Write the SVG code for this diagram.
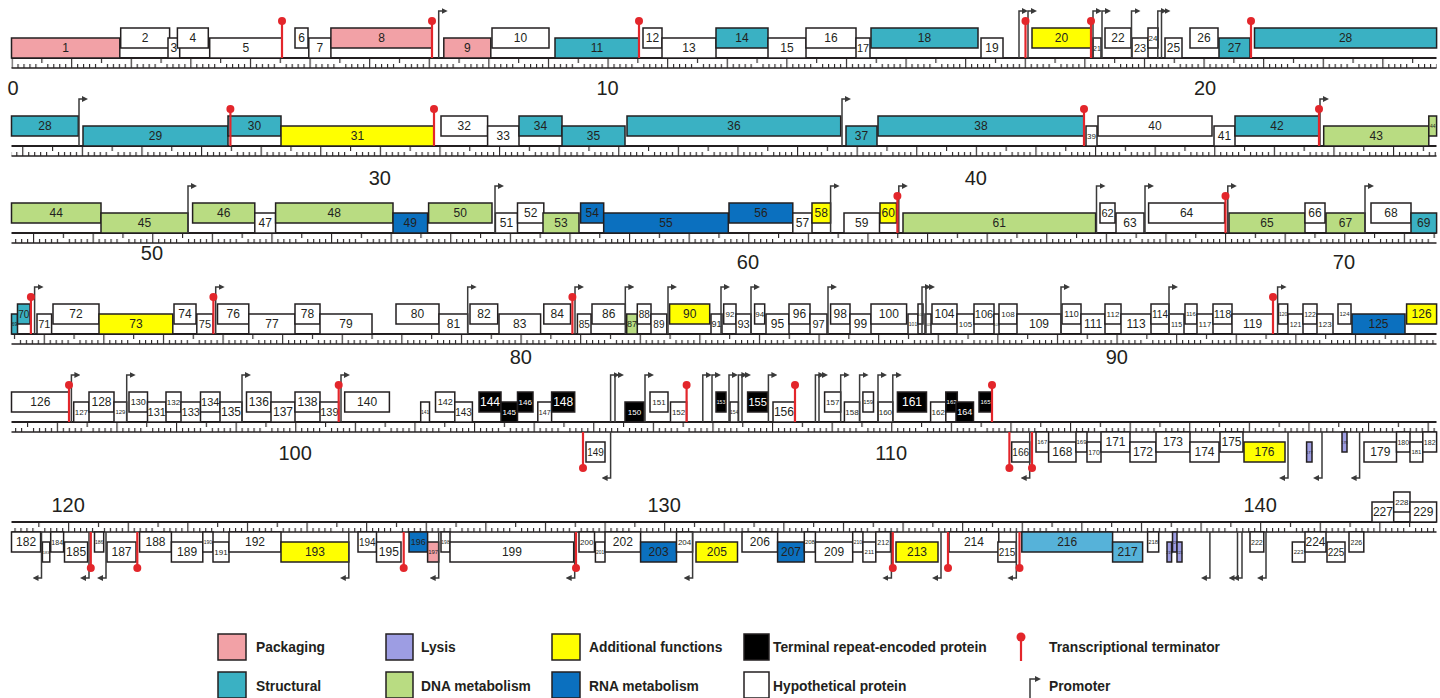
<svg xmlns="http://www.w3.org/2000/svg" xmlns:xlink="http://www.w3.org/1999/xlink" width="1440" height="698" viewBox="0 0 1440 698">
<style>
.b{stroke:#231f20;stroke-width:1.5;fill:#fff}
.pk{fill:#F2A1A6}.st{fill:#3AB1C3}.dn{fill:#B9DC82}.rn{fill:#0B70BF}.ad{fill:#FFFF00}.ly{fill:#9D9DE3}.tr{fill:#000}.sl{fill:#56B2D9}
text{font-family:'Liberation Sans',Arial,sans-serif;fill:#231f20}
.gn text{font-size:12px;text-anchor:middle;dominant-baseline:central}
.gn text.w{fill:#fff}
.f4{font-size:4px!important}.f5{font-size:5px!important}.f6{font-size:6px!important}.f7{font-size:7px!important}.f8{font-size:8px!important}.f9{font-size:9px!important}.f10{font-size:10px!important}.f11{font-size:11px!important}
.k{font-size:20px;text-anchor:middle;dominant-baseline:central}
.lg{font-size:13.8px;font-weight:bold;dominant-baseline:central}
.rt{stroke:#231f20;stroke-width:2.2}
.rb{stroke:#231f20;stroke-width:1.7}
.pr{fill:none;stroke:#3a3a3a;stroke-width:1.5}
.tm{stroke:#E3262B;stroke-width:2.2}
.tb{fill:#E3262B}
</style>
<defs>
<pattern id="rul" patternUnits="userSpaceOnUse" x="0" y="0" width="59.6" height="10">
<path d="M0.6 0V10M6.56 6V10M12.52 6V10M18.48 6V10M24.44 6V10M30.4 0V5M36.36 6V10M42.32 6V10M48.28 6V10M54.24 6V10" stroke="#231f20" stroke-width="1.1"/>
</pattern>
<marker id="ah" markerWidth="6" markerHeight="6" refX="1" refY="3" orient="auto" markerUnits="userSpaceOnUse"><path d="M0,0L6,3L0,6z" fill="#3a3a3a"/></marker>
<path id="pu" class="pr" d="M0 0V-47h4" marker-end="url(#ah)"/>
<path id="pd" class="pr" d="M0 0V46h-4" marker-end="url(#ah)"/>
<g id="tu"><line class="tm" x1="0" y1="0" x2="0" y2="-37"/><circle class="tb" cx="0" cy="-37" r="4"/></g>
<g id="td"><line class="tm" x1="0" y1="0" x2="0" y2="36"/><circle class="tb" cx="0" cy="36" r="4"/></g>
</defs>
<rect width="1440" height="698" fill="#fff"/>

<g id="rulers">
<g transform="translate(11.5,58)"><rect x="0" y="0" width="1425" height="10" fill="url(#rul)"/></g>
<line class="rt" x1="11.5" y1="58" x2="1436.5" y2="58"/><line class="rb" x1="11.5" y1="68" x2="1436.5" y2="68"/>
<g transform="translate(22.2,146)"><rect x="-10.7" y="0" width="1425" height="10" fill="url(#rul)"/></g>
<line class="rt" x1="11.5" y1="146" x2="1436.5" y2="146"/><line class="rb" x1="11.5" y1="156" x2="1436.5" y2="156"/>
<g transform="translate(33,233)"><rect x="-21.5" y="0" width="1425" height="10" fill="url(#rul)"/></g>
<line class="rt" x1="11.5" y1="233" x2="1436.5" y2="233"/><line class="rb" x1="11.5" y1="243" x2="1436.5" y2="243"/>
<g transform="translate(43.7,334)"><rect x="-32.2" y="0" width="1425" height="10" fill="url(#rul)"/></g>
<line class="rt" x1="11.5" y1="334" x2="1436.5" y2="334"/><line class="rb" x1="11.5" y1="344" x2="1436.5" y2="344"/>
<g transform="translate(56.8,422)"><rect x="-45.3" y="0" width="1425" height="10" fill="url(#rul)"/></g>
<line class="rt" x1="11.5" y1="422" x2="1436.5" y2="422"/><line class="rb" x1="11.5" y1="432" x2="1436.5" y2="432"/>
<g transform="translate(68.1,522)"><rect x="-56.6" y="0" width="1425" height="10" fill="url(#rul)"/></g>
<line class="rt" x1="11.5" y1="522" x2="1436.5" y2="522"/><line class="rb" x1="11.5" y1="532" x2="1436.5" y2="532"/>
<text class="k" x="13" y="88">0</text><text class="k" x="607.5" y="88">10</text><text class="k" x="1205" y="88">20</text>
<text class="k" x="379.8" y="178">30</text><text class="k" x="975.8" y="178">40</text>
<text class="k" x="151.9" y="253">50</text><text class="k" x="747.9" y="262">60</text><text class="k" x="1343.9" y="262">70</text>
<text class="k" x="520.8" y="357">80</text><text class="k" x="1116.8" y="357">90</text>
<text class="k" x="295.1" y="453">100</text><text class="k" x="891.1" y="453">110</text>
<text class="k" x="68.1" y="505">120</text><text class="k" x="664.1" y="505">130</text><text class="k" x="1260.1" y="505">140</text>
</g>

<g id="genes" class="gn">
<!-- row 1 -->
<g id="gene-1"><rect class="b pk" x="11.5" y="38" width="108.3" height="20"/><text x="65.7" y="48">1</text></g>
<g id="gene-2"><rect class="b" x="120.7" y="28" width="48.9" height="20"/><text x="145.2" y="38">2</text></g>
<g id="gene-3"><rect class="b" x="168" y="38" width="11.7" height="20"/><text x="173.9" y="48">3</text></g>
<g id="gene-4"><rect class="b" x="177.4" y="28" width="30.9" height="20"/><text x="192.9" y="38">4</text></g>
<g id="gene-5"><rect class="b" x="209.7" y="38" width="72.3" height="20"/><text x="245.9" y="48">5</text></g>
<g id="gene-6"><rect class="b" x="295" y="28" width="13" height="20"/><text x="301.5" y="38">6</text></g>
<g id="gene-7"><rect class="b" x="308.8" y="38" width="22.1" height="20"/><text x="319.9" y="48">7</text></g>
<g id="gene-8"><rect class="b pk" x="330.9" y="28" width="101.1" height="20"/><text x="381.5" y="38">8</text></g>
<g id="gene-9"><rect class="b pk" x="443.8" y="38" width="47" height="20"/><text x="467.3" y="48">9</text></g>
<g id="gene-10"><rect class="b" x="492" y="28" width="57" height="20"/><text x="520.5" y="38">10</text></g>
<g id="gene-11"><rect class="b st" x="555" y="38" width="84" height="20"/><text x="597" y="48">11</text></g>
<g id="gene-12"><rect class="b" x="643" y="28" width="19" height="20"/><text x="652.5" y="38">12</text></g>
<g id="gene-13"><rect class="b" x="662" y="38" width="54" height="20"/><text x="689" y="48">13</text></g>
<g id="gene-14"><rect class="b st" x="716" y="28" width="52" height="20"/><text x="742" y="38">14</text></g>
<g id="gene-15"><rect class="b" x="768" y="38" width="38" height="20"/><text x="787" y="48">15</text></g>
<g id="gene-16"><rect class="b" x="806" y="28" width="50" height="20"/><text x="831" y="38">16</text></g>
<g id="gene-17"><rect class="b" x="856" y="38" width="14" height="20"/><text class="f11" x="863" y="48">17</text></g>
<g id="gene-18"><rect class="b st" x="871" y="28" width="107" height="20"/><text x="924.5" y="38">18</text></g>
<g id="gene-19"><rect class="b" x="981" y="38" width="22" height="20"/><text x="992" y="48">19</text></g>
<g id="gene-20"><rect class="b ad" x="1032" y="28" width="59" height="20"/><text x="1061.5" y="38">20</text></g>
<g id="gene-21"><rect class="b" x="1093" y="38" width="8" height="20"/><text class="f7" x="1097" y="48">21</text></g>
<g id="gene-22"><rect class="b" x="1105" y="28" width="26" height="20"/><text x="1118" y="38">22</text></g>
<g id="gene-23"><rect class="b" x="1132" y="38" width="16" height="20"/><text class="f11" x="1140" y="48">23</text></g>
<g id="gene-24"><rect class="b" x="1148" y="28" width="10" height="20"/><text class="f8" x="1153" y="38">24</text></g>
<g id="gene-25"><rect class="b" x="1165" y="38" width="17" height="20"/><text x="1173.5" y="48">25</text></g>
<g id="gene-26"><rect class="b" x="1190" y="28" width="28" height="20"/><text x="1204" y="38">26</text></g>
<g id="gene-27"><rect class="b st" x="1219" y="38" width="31" height="20"/><text x="1234.5" y="48">27</text></g>
<g id="gene-28"><rect class="b st" x="1254.5" y="28" width="182.1" height="20"/><text x="1345.6" y="38">28</text></g>
<!-- row 2 -->
<g id="gene-28-cont"><rect class="b st" x="11.5" y="116" width="66.8" height="20"/><text x="44.9" y="126">28</text></g>
<g id="gene-29"><rect class="b st" x="83" y="126" width="145" height="20"/><text x="155.5" y="136">29</text></g>
<g id="gene-30"><rect class="b st" x="228" y="116" width="53" height="20"/><text x="254.5" y="126">30</text></g>
<g id="gene-31"><rect class="b ad" x="281" y="126" width="153" height="20"/><text x="357.5" y="136">31</text></g>
<g id="gene-32"><rect class="b" x="441" y="116" width="46.6" height="20"/><text x="464.3" y="126">32</text></g>
<g id="gene-33"><rect class="b" x="487.6" y="126" width="31.4" height="20"/><text x="503.3" y="136">33</text></g>
<g id="gene-34"><rect class="b st" x="519" y="116" width="43" height="20"/><text x="540.5" y="126">34</text></g>
<g id="gene-35"><rect class="b st" x="562" y="126" width="63" height="20"/><text x="593.5" y="136">35</text></g>
<g id="gene-36"><rect class="b st" x="627" y="116" width="213.7" height="20"/><text x="733.9" y="126">36</text></g>
<g id="gene-37"><rect class="b st" x="846" y="126" width="31" height="20"/><text x="861.5" y="136">37</text></g>
<g id="gene-38"><rect class="b st" x="878" y="116" width="206" height="20"/><text x="981" y="126">38</text></g>
<g id="gene-39"><rect class="b" x="1086" y="126" width="11" height="20"/><text class="f8" x="1091.5" y="136">39</text></g>
<g id="gene-40"><rect class="b" x="1098" y="116" width="114" height="20"/><text x="1155" y="126">40</text></g>
<g id="gene-41"><rect class="b" x="1214" y="126" width="21" height="20"/><text x="1224.5" y="136">41</text></g>
<g id="gene-42"><rect class="b st" x="1235" y="116" width="84" height="20"/><text x="1277" y="126">42</text></g>
<g id="gene-43"><rect class="b dn" x="1323.7" y="126" width="105.1" height="20"/><text x="1376.3" y="136">43</text></g>
<g id="gene-44"><rect class="b dn" x="1428.8" y="116" width="7.8" height="20"/><text class="f5" x="1432.7" y="126">44</text></g>
<!-- row 3 -->
<g id="gene-44-cont"><rect class="b dn" x="11.5" y="203" width="89.5" height="20"/><text x="56.3" y="213">44</text></g>
<g id="gene-45"><rect class="b dn" x="101" y="213" width="87" height="20"/><text x="144.5" y="223">45</text></g>
<g id="gene-46"><rect class="b dn" x="192.6" y="203" width="62.2" height="20"/><text x="223.7" y="213">46</text></g>
<g id="gene-47"><rect class="b" x="254.8" y="213" width="20.8" height="20"/><text x="265.2" y="223">47</text></g>
<g id="gene-48"><rect class="b dn" x="275.6" y="203" width="117.4" height="20"/><text x="334.3" y="213">48</text></g>
<g id="gene-49"><rect class="b rn" x="393" y="213" width="34.6" height="20"/><text x="410.3" y="223">49</text></g>
<g id="gene-50"><rect class="b dn" x="428.6" y="203" width="63.4" height="20"/><text x="460.3" y="213">50</text></g>
<g id="gene-51"><rect class="b" x="495.4" y="213" width="22.1" height="20"/><text x="506.5" y="223">51</text></g>
<g id="gene-52"><rect class="b" x="517.5" y="203" width="26.3" height="20"/><text x="530.7" y="213">52</text></g>
<g id="gene-53"><rect class="b dn" x="543" y="213" width="36" height="20"/><text x="561" y="223">53</text></g>
<g id="gene-54"><rect class="b rn" x="580.6" y="203" width="23.1" height="20"/><text x="592.2" y="213">54</text></g>
<g id="gene-55"><rect class="b rn" x="603.7" y="213" width="124.6" height="20"/><text x="666" y="223">55</text></g>
<g id="gene-56"><rect class="b rn" x="729" y="203" width="63.8" height="20"/><text x="760.9" y="213">56</text></g>
<g id="gene-57"><rect class="b" x="792.8" y="213" width="19.2" height="20"/><text x="802.4" y="223">57</text></g>
<g id="gene-58"><rect class="b ad" x="812" y="203" width="18.6" height="20"/><text x="821.3" y="213">58</text></g>
<g id="gene-59"><rect class="b" x="844" y="213" width="35.5" height="20"/><text x="861.8" y="223">59</text></g>
<g id="gene-60"><rect class="b ad" x="880" y="203" width="16.5" height="20"/><text x="888.3" y="213">60</text></g>
<g id="gene-61"><rect class="b dn" x="903" y="213" width="192.6" height="20"/><text x="999.3" y="223">61</text></g>
<g id="gene-62"><rect class="b" x="1100" y="203" width="15" height="20"/><text class="f11" x="1107.5" y="213">62</text></g>
<g id="gene-63"><rect class="b" x="1116" y="213" width="28" height="20"/><text x="1130" y="223">63</text></g>
<g id="gene-64"><rect class="b" x="1148.6" y="203" width="76" height="20"/><text x="1186.6" y="213">64</text></g>
<g id="gene-65"><rect class="b dn" x="1229" y="213" width="76" height="20"/><text x="1267" y="223">65</text></g>
<g id="gene-66"><rect class="b" x="1305" y="203" width="20" height="20"/><text x="1315" y="213">66</text></g>
<g id="gene-67"><rect class="b dn" x="1326" y="213" width="39" height="20"/><text x="1345.5" y="223">67</text></g>
<g id="gene-68"><rect class="b" x="1371" y="203" width="40" height="20"/><text x="1391" y="213">68</text></g>
<g id="gene-69"><rect class="b st" x="1411" y="213" width="25.6" height="20"/><text x="1423.8" y="223">69</text></g>
<!-- row 4 -->
<g id="gene-69-cont"><rect class="b st" x="11.5" y="314" width="6" height="20"/><text class="f5" x="14.5" y="324">69</text></g>
<g id="gene-70"><rect class="b st" x="17.5" y="304" width="12.5" height="20"/><text class="f10" x="23.8" y="314">70</text></g>
<g id="gene-71"><rect class="b" x="37" y="314" width="14.6" height="20"/><text class="f11" x="44.3" y="324">71</text></g>
<g id="gene-72"><rect class="b" x="53" y="304" width="46" height="20"/><text x="76" y="314">72</text></g>
<g id="gene-73"><rect class="b ad" x="99" y="314" width="73.8" height="20"/><text x="135.9" y="324">73</text></g>
<g id="gene-74"><rect class="b" x="174" y="304" width="22" height="20"/><text x="185" y="314">74</text></g>
<g id="gene-75"><rect class="b" x="196.8" y="314" width="16.2" height="20"/><text class="f11" x="204.9" y="324">75</text></g>
<g id="gene-76"><rect class="b" x="217.5" y="304" width="31.3" height="20"/><text x="233.2" y="314">76</text></g>
<g id="gene-77"><rect class="b" x="248.8" y="314" width="46.2" height="20"/><text x="271.9" y="324">77</text></g>
<g id="gene-78"><rect class="b" x="295" y="304" width="25" height="20"/><text x="307.5" y="314">78</text></g>
<g id="gene-79"><rect class="b" x="320" y="314" width="52" height="20"/><text x="346" y="324">79</text></g>
<g id="gene-80"><rect class="b" x="396" y="304" width="43" height="20"/><text x="417.5" y="314">80</text></g>
<g id="gene-81"><rect class="b" x="439" y="314" width="28.7" height="20"/><text x="453.4" y="324">81</text></g>
<g id="gene-82"><rect class="b" x="470" y="304" width="27.7" height="20"/><text x="483.9" y="314">82</text></g>
<g id="gene-83"><rect class="b" x="499" y="314" width="41.6" height="20"/><text x="519.8" y="324">83</text></g>
<g id="gene-84"><rect class="b" x="543.8" y="304" width="26.7" height="20"/><text x="557.2" y="314">84</text></g>
<g id="gene-85"><rect class="b" x="577.4" y="314" width="13.6" height="20"/><text class="f10" x="584.2" y="324">85</text></g>
<g id="gene-86"><rect class="b" x="592" y="304" width="33.3" height="20"/><text x="608.7" y="314">86</text></g>
<g id="gene-87"><rect class="b dn" x="626.7" y="314" width="10.6" height="20"/><text class="f9" x="632" y="324">87</text></g>
<g id="gene-88"><rect class="b" x="637.3" y="304" width="13.7" height="20"/><text class="f10" x="644.2" y="314">88</text></g>
<g id="gene-89"><rect class="b" x="651" y="314" width="15.8" height="20"/><text class="f10" x="658.9" y="324">89</text></g>
<g id="gene-90"><rect class="b ad" x="669.6" y="304" width="40.1" height="20"/><text x="689.7" y="314">90</text></g>
<g id="gene-91"><rect class="b" x="711" y="314" width="11" height="20"/><text class="f9" x="716.5" y="324">91</text></g>
<g id="gene-92"><rect class="b" x="723.7" y="304" width="12.3" height="20"/><text class="f8" x="729.9" y="314">92</text></g>
<g id="gene-93"><rect class="b" x="736" y="314" width="15" height="20"/><text class="f11" x="743.5" y="324">93</text></g>
<g id="gene-94"><rect class="b" x="754.6" y="304" width="10.1" height="20"/><text class="f8" x="759.7" y="314">94</text></g>
<g id="gene-95"><rect class="b" x="766" y="314" width="23" height="20"/><text x="777.5" y="324">95</text></g>
<g id="gene-96"><rect class="b" x="789" y="304" width="21" height="20"/><text x="799.5" y="314">96</text></g>
<g id="gene-97"><rect class="b" x="810" y="314" width="17" height="20"/><text class="f11" x="818.5" y="324">97</text></g>
<g id="gene-98"><rect class="b" x="830.6" y="304" width="19.4" height="20"/><text x="840.3" y="314">98</text></g>
<g id="gene-99"><rect class="b" x="850" y="314" width="21" height="20"/><text x="860.5" y="324">99</text></g>
<g id="gene-100"><rect class="b" x="871" y="304" width="35.6" height="20"/><text x="888.8" y="314">100</text></g>
<g id="gene-101"><rect class="b" x="908" y="314" width="10" height="20"/><text class="f5" x="913" y="324">101</text></g>
<g id="gene-102"><rect class="b" x="918" y="304" width="5" height="20"/><text class="f4" x="920.5" y="314">102</text></g>
<g id="gene-103"><rect class="b" x="925" y="314" width="6" height="20"/><text class="f4" x="928" y="324">103</text></g>
<g id="gene-104"><rect class="b" x="932" y="304" width="25" height="20"/><text x="944.5" y="314">104</text></g>
<g id="gene-105"><rect class="b" x="957" y="314" width="17" height="20"/><text class="f8" x="965.5" y="324">105</text></g>
<g id="gene-106"><rect class="b" x="974" y="304" width="20" height="20"/><text class="f11" x="984" y="314">106</text></g>
<g id="gene-107"><rect class="b" x="994" y="314" width="5" height="20"/><text class="f4" x="996.5" y="324">107</text></g>
<g id="gene-108"><rect class="b" x="999" y="304" width="18" height="20"/><text class="f8" x="1008" y="314">108</text></g>
<g id="gene-109"><rect class="b" x="1017" y="314" width="44" height="20"/><text x="1039" y="324">109</text></g>
<g id="gene-110"><rect class="b" x="1062" y="304" width="19" height="20"/><text class="f9" x="1071.5" y="314">110</text></g>
<g id="gene-111"><rect class="b" x="1081" y="314" width="24" height="20"/><text x="1093" y="324">111</text></g>
<g id="gene-112"><rect class="b" x="1105" y="304" width="16" height="20"/><text class="f8" x="1113" y="314">112</text></g>
<g id="gene-113"><rect class="b" x="1121" y="314" width="30" height="20"/><text x="1136" y="324">113</text></g>
<g id="gene-114"><rect class="b" x="1151" y="304" width="18" height="20"/><text class="f10" x="1160" y="314">114</text></g>
<g id="gene-115"><rect class="b" x="1169" y="314" width="15" height="20"/><text class="f7" x="1176.5" y="324">115</text></g>
<g id="gene-116"><rect class="b" x="1185" y="304" width="12" height="20"/><text class="f6" x="1191" y="314">116</text></g>
<g id="gene-117"><rect class="b" x="1197" y="314" width="16" height="20"/><text class="f8" x="1205" y="324">117</text></g>
<g id="gene-118"><rect class="b" x="1213" y="304" width="19" height="20"/><text class="f11" x="1222.5" y="314">118</text></g>
<g id="gene-119"><rect class="b" x="1232" y="314" width="41" height="20"/><text x="1252.5" y="324">119</text></g>
<g id="gene-120"><rect class="b" x="1278.5" y="304" width="9.2" height="20"/><text class="f5" x="1283.1" y="314">120</text></g>
<g id="gene-121"><rect class="b" x="1288" y="314" width="15" height="20"/><text class="f7" x="1295.5" y="324">121</text></g>
<g id="gene-122"><rect class="b" x="1303" y="304" width="14" height="20"/><text class="f7" x="1310" y="314">122</text></g>
<g id="gene-123"><rect class="b" x="1317" y="314" width="16" height="20"/><text class="f8" x="1325" y="324">123</text></g>
<g id="gene-124"><rect class="b" x="1338" y="304" width="13" height="20"/><text class="f6" x="1344.5" y="314">124</text></g>
<g id="gene-125"><rect class="b rn" x="1352" y="314" width="53" height="20"/><text x="1378.5" y="324">125</text></g>
<g id="gene-126"><rect class="b ad" x="1406.6" y="304" width="30" height="20"/><text x="1421.6" y="314">126</text></g>
<!-- row 5 -->
<g id="gene-126-cont"><rect class="b" x="11.5" y="392" width="57.5" height="20"/><text x="40.3" y="402">126</text></g>
<g id="gene-127"><rect class="b" x="73.7" y="402" width="15.3" height="20"/><text class="f8" x="81.4" y="412">127</text></g>
<g id="gene-128"><rect class="b" x="89" y="392" width="25" height="20"/><text x="101.5" y="402">128</text></g>
<g id="gene-129"><rect class="b" x="114" y="402" width="12.7" height="20"/><text class="f6" x="120.4" y="412">129</text></g>
<g id="gene-130"><rect class="b" x="129" y="392" width="18.5" height="20"/><text class="f9" x="138.3" y="402">130</text></g>
<g id="gene-131"><rect class="b" x="147.5" y="402" width="18.5" height="20"/><text class="f11" x="156.8" y="412">131</text></g>
<g id="gene-132"><rect class="b" x="166" y="392" width="15" height="20"/><text class="f8" x="173.5" y="402">132</text></g>
<g id="gene-133"><rect class="b" x="181" y="402" width="19.5" height="20"/><text class="f11" x="190.8" y="412">133</text></g>
<g id="gene-134"><rect class="b" x="200.5" y="392" width="19.5" height="20"/><text class="f11" x="210.3" y="402">134</text></g>
<g id="gene-135"><rect class="b" x="220" y="402" width="22" height="20"/><text x="231" y="412">135</text></g>
<g id="gene-136"><rect class="b" x="246.5" y="392" width="24.5" height="20"/><text x="258.8" y="402">136</text></g>
<g id="gene-137"><rect class="b" x="271" y="402" width="24" height="20"/><text x="283" y="412">137</text></g>
<g id="gene-138"><rect class="b" x="295" y="392" width="25" height="20"/><text x="307.5" y="402">138</text></g>
<g id="gene-139"><rect class="b" x="320" y="402" width="18.7" height="20"/><text class="f11" x="329.4" y="412">139</text></g>
<g id="gene-140"><rect class="b" x="344.7" y="392" width="44.7" height="20"/><text x="367.1" y="402">140</text></g>
<g id="gene-141"><rect class="b" x="420.7" y="402" width="8.8" height="20"/><text class="f5" x="425.1" y="412">141</text></g>
<g id="gene-142"><rect class="b" x="435.5" y="392" width="19.3" height="20"/><text class="f9" x="445.2" y="402">142</text></g>
<g id="gene-143"><rect class="b" x="454.8" y="402" width="17.6" height="20"/><text class="f10" x="463.6" y="412">143</text></g>
<g id="gene-144"><rect class="b tr" x="479" y="392" width="22" height="20"/><text class="w" x="490" y="402">144</text></g>
<g id="gene-145"><rect class="b tr" x="501" y="402" width="16.5" height="20"/><text class="w f8" x="509.3" y="412">145</text></g>
<g id="gene-146"><rect class="b tr" x="517.5" y="392" width="15.5" height="20"/><text class="w f8" x="525.3" y="402">146</text></g>
<g id="gene-147"><rect class="b" x="537.8" y="402" width="13.8" height="20"/><text class="f7" x="544.7" y="412">147</text></g>
<g id="gene-148"><rect class="b tr" x="551.6" y="392" width="23.1" height="20"/><text class="w" x="563.2" y="402">148</text></g>
<g id="gene-149"><rect class="b" x="586" y="442" width="19" height="20"/><text class="f10" x="595.5" y="452">149</text></g>
<g id="gene-150"><rect class="b tr" x="625" y="402" width="19" height="20"/><text class="w f8" x="634.5" y="412">150</text></g>
<g id="gene-151"><rect class="b" x="650" y="392" width="18" height="20"/><text class="f8" x="659" y="402">151</text></g>
<g id="gene-152"><rect class="b" x="670.5" y="402" width="16.1" height="20"/><text class="f8" x="678.6" y="412">152</text></g>
<g id="gene-153"><rect class="b tr" x="716" y="392" width="10" height="20"/><text class="w f5" x="721" y="402">153</text></g>
<g id="gene-154"><rect class="b" x="730" y="402" width="8.4" height="20"/><text class="f5" x="734.2" y="412">154</text></g>
<g id="gene-155"><rect class="b tr" x="747.6" y="392" width="19.9" height="20"/><text class="w f11" x="757.6" y="402">155</text></g>
<g id="gene-156"><rect class="b" x="773" y="402" width="21.7" height="20"/><text x="783.9" y="412">156</text></g>
<g id="gene-157"><rect class="b" x="824.6" y="392" width="16.1" height="20"/><text class="f8" x="832.7" y="402">157</text></g>
<g id="gene-158"><rect class="b" x="844.4" y="402" width="15.2" height="20"/><text class="f8" x="852" y="412">158</text></g>
<g id="gene-159"><rect class="b" x="862.9" y="392" width="10.6" height="20"/><text class="f6" x="868.2" y="402">159</text></g>
<g id="gene-160"><rect class="b" x="878" y="402" width="14.8" height="20"/><text class="f8" x="885.4" y="412">160</text></g>
<g id="gene-161"><rect class="b tr" x="897.4" y="392" width="29.1" height="20"/><text class="w" x="912" y="402">161</text></g>
<g id="gene-162"><rect class="b" x="930.6" y="402" width="15.2" height="20"/><text class="f8" x="938.2" y="412">162</text></g>
<g id="gene-163"><rect class="b tr" x="945.8" y="392" width="11.5" height="20"/><text class="w f6" x="951.6" y="402">163</text></g>
<g id="gene-164"><rect class="b tr" x="956" y="402" width="17.5" height="20"/><text class="w f9" x="964.8" y="412">164</text></g>
<g id="gene-165"><rect class="b tr" x="979" y="392" width="13" height="20"/><text class="w f6" x="985.5" y="402">165</text></g>
<g id="gene-166"><rect class="b" x="1011.7" y="442" width="18" height="20"/><text class="f10" x="1020.7" y="452">166</text></g>
<g id="gene-167"><rect class="b" x="1036" y="432" width="12.6" height="20"/><text class="f6" x="1042.3" y="442">167</text></g>
<g id="gene-168"><rect class="b" x="1048.6" y="442" width="27.4" height="20"/><text x="1062.3" y="452">168</text></g>
<g id="gene-169"><rect class="b" x="1076" y="432" width="11" height="20"/><text class="f6" x="1081.5" y="442">169</text></g>
<g id="gene-170"><rect class="b" x="1087" y="442" width="14" height="20"/><text class="f7" x="1094" y="452">170</text></g>
<g id="gene-171"><rect class="b" x="1101" y="432" width="29" height="20"/><text x="1115.5" y="442">171</text></g>
<g id="gene-172"><rect class="b" x="1130" y="442" width="26" height="20"/><text x="1143" y="452">172</text></g>
<g id="gene-173"><rect class="b" x="1156" y="432" width="34" height="20"/><text x="1173" y="442">173</text></g>
<g id="gene-174"><rect class="b" x="1190" y="442" width="29" height="20"/><text x="1204.5" y="452">174</text></g>
<g id="gene-175"><rect class="b" x="1220" y="432" width="23" height="20"/><text x="1231.5" y="442">175</text></g>
<g id="gene-176"><rect class="b ad" x="1244" y="442" width="41" height="20"/><text x="1264.5" y="452">176</text></g>
<g id="gene-177"><rect class="b ly" x="1306.6" y="442" width="5.4" height="20"/><text class="f4" x="1309.3" y="452">177</text></g>
<g id="gene-178"><rect class="b ly" x="1342" y="432" width="5" height="20"/><text class="f4" x="1344.5" y="442">178</text></g>
<g id="gene-179"><rect class="b" x="1364" y="442" width="32.5" height="20"/><text x="1380.3" y="452">179</text></g>
<g id="gene-180"><rect class="b" x="1396.5" y="432" width="13.5" height="20"/><text class="f7" x="1403.3" y="442">180</text></g>
<g id="gene-181"><rect class="b" x="1410" y="442" width="12.8" height="20"/><text class="f6" x="1416.4" y="452">181</text></g>
<g id="gene-182"><rect class="b" x="1422.8" y="432" width="13.8" height="20"/><text class="f7" x="1429.7" y="442">182</text></g>
<!-- row 6 -->
<g id="gene-182-cont"><rect class="b" x="11.5" y="532" width="29.1" height="20"/><text x="26.1" y="542">182</text></g>
<g id="gene-183"><rect class="b" x="42.4" y="542" width="7.4" height="20"/><text class="f4" x="46.1" y="552">183</text></g>
<g id="gene-184"><rect class="b" x="50.7" y="532" width="12.9" height="20"/><text class="f7" x="57.2" y="542">184</text></g>
<g id="gene-185"><rect class="b" x="64.5" y="542" width="23.1" height="20"/><text x="76.1" y="552">185</text></g>
<g id="gene-186"><rect class="b" x="94.5" y="532" width="9.2" height="20"/><text class="f5" x="99.1" y="542">186</text></g>
<g id="gene-187"><rect class="b" x="107" y="542" width="29" height="20"/><text x="121.5" y="552">187</text></g>
<g id="gene-188"><rect class="b" x="139.6" y="532" width="31.8" height="20"/><text x="155.5" y="542">188</text></g>
<g id="gene-189"><rect class="b" x="171.4" y="542" width="31.4" height="20"/><text x="187.1" y="552">189</text></g>
<g id="gene-190"><rect class="b" x="202.8" y="532" width="10.2" height="20"/><text class="f5" x="207.9" y="542">190</text></g>
<g id="gene-191"><rect class="b" x="213" y="542" width="16" height="20"/><text class="f8" x="221" y="552">191</text></g>
<g id="gene-192"><rect class="b" x="229" y="532" width="52" height="20"/><text x="255" y="542">192</text></g>
<g id="gene-193"><rect class="b ad" x="281" y="542" width="67.8" height="20"/><text x="314.9" y="552">193</text></g>
<g id="gene-194"><rect class="b" x="358" y="532" width="18.5" height="20"/><text class="f10" x="367.3" y="542">194</text></g>
<g id="gene-195"><rect class="b" x="376.5" y="542" width="24.5" height="20"/><text x="388.8" y="552">195</text></g>
<g id="gene-196"><rect class="b rn" x="409" y="532" width="18.6" height="20"/><text class="f9" x="418.3" y="542">196</text></g>
<g id="gene-197"><rect class="b pk" x="427.6" y="542" width="11.1" height="20"/><text class="f6" x="433.2" y="552">197</text></g>
<g id="gene-198"><rect class="b" x="441" y="532" width="9" height="20"/><text class="f5" x="445.5" y="542">198</text></g>
<g id="gene-199"><rect class="b" x="450" y="542" width="123.7" height="20"/><text x="511.9" y="552">199</text></g>
<g id="gene-200"><rect class="b" x="579" y="532" width="15.5" height="20"/><text class="f8" x="586.8" y="542">200</text></g>
<g id="gene-201"><rect class="b" x="595.4" y="542" width="9.6" height="20"/><text class="f5" x="600.2" y="552">201</text></g>
<g id="gene-202"><rect class="b" x="605" y="532" width="35.6" height="20"/><text x="622.8" y="542">202</text></g>
<g id="gene-203"><rect class="b rn" x="640.6" y="542" width="35.9" height="20"/><text x="658.6" y="552">203</text></g>
<g id="gene-204"><rect class="b" x="676.5" y="532" width="16.1" height="20"/><text class="f8" x="684.6" y="542">204</text></g>
<g id="gene-205"><rect class="b ad" x="696" y="542" width="41.5" height="20"/><text x="716.8" y="552">205</text></g>
<g id="gene-206"><rect class="b" x="742" y="532" width="35.6" height="20"/><text x="759.8" y="542">206</text></g>
<g id="gene-207"><rect class="b rn" x="777.6" y="542" width="26.7" height="20"/><text x="791" y="552">207</text></g>
<g id="gene-208"><rect class="b" x="804.3" y="532" width="11.1" height="20"/><text class="f6" x="809.9" y="542">208</text></g>
<g id="gene-209"><rect class="b" x="815.4" y="542" width="37.3" height="20"/><text x="834.1" y="552">209</text></g>
<g id="gene-210"><rect class="b" x="852.7" y="532" width="10.2" height="20"/><text class="f5" x="857.8" y="542">210</text></g>
<g id="gene-211"><rect class="b" x="862.9" y="542" width="12.9" height="20"/><text class="f6" x="869.4" y="552">211</text></g>
<g id="gene-212"><rect class="b" x="875.8" y="532" width="14.7" height="20"/><text class="f7" x="883.2" y="542">212</text></g>
<g id="gene-213"><rect class="b ad" x="896" y="542" width="42" height="20"/><text x="917" y="552">213</text></g>
<g id="gene-214"><rect class="b" x="949" y="532" width="49.8" height="20"/><text x="973.9" y="542">214</text></g>
<g id="gene-215"><rect class="b" x="997.9" y="542" width="18.4" height="20"/><text class="f10" x="1007.1" y="552">215</text></g>
<g id="gene-216"><rect class="b sl" x="1021.8" y="532" width="90.8" height="20"/><text x="1067.2" y="542">216</text></g>
<g id="gene-217"><rect class="b sl" x="1112.6" y="542" width="30" height="20"/><text x="1127.6" y="552">217</text></g>
<g id="gene-218"><rect class="b" x="1147.6" y="532" width="11.1" height="20"/><text class="f6" x="1153.2" y="542">218</text></g>
<g id="gene-219"><rect class="b ly" x="1167" y="542" width="4.6" height="20"/><text class="f4" x="1169.3" y="552">219</text></g>
<g id="gene-220"><rect class="b ly" x="1172.5" y="532" width="4.5" height="20"/><text class="f4" x="1174.8" y="542">220</text></g>
<g id="gene-221"><rect class="b ly" x="1177" y="542" width="5" height="20"/><text class="f4" x="1179.5" y="552">221</text></g>
<g id="gene-222"><rect class="b" x="1250" y="532" width="13.8" height="20"/><text class="f7" x="1256.9" y="542">222</text></g>
<g id="gene-223"><rect class="b" x="1292.3" y="542" width="12.7" height="20"/><text class="f6" x="1298.7" y="552">223</text></g>
<g id="gene-224"><rect class="b" x="1305" y="532" width="21" height="20"/><text x="1315.5" y="542">224</text></g>
<g id="gene-225"><rect class="b" x="1327" y="542" width="18" height="20"/><text class="f10" x="1336" y="552">225</text></g>
<g id="gene-226"><rect class="b" x="1349" y="532" width="14.8" height="20"/><text class="f7" x="1356.4" y="542">226</text></g>
<g id="gene-227"><rect class="b" x="1372" y="502" width="21.7" height="20"/><text x="1382.9" y="512">227</text></g>
<g id="gene-228"><rect class="b" x="1393.7" y="492" width="16.3" height="20"/><text class="f8" x="1401.9" y="502">228</text></g>
<g id="gene-229"><rect class="b" x="1410" y="502" width="26.6" height="20"/><text x="1423.3" y="512">229</text></g>
</g>

<g id="connectors">
<use href="#pu" x="438.7" y="58"/><use href="#pu" x="1019" y="58"/><use href="#pu" x="1028" y="58"/><use href="#pu" x="1093" y="58"/><use href="#pu" x="1102" y="58"/><use href="#pu" x="1131.5" y="58"/><use href="#pu" x="1157.8" y="58"/><use href="#pu" x="1161.5" y="58"/>
<use href="#pu" x="79" y="146"/><use href="#pu" x="842" y="146"/><use href="#pu" x="1320" y="146"/>
<use href="#pu" x="188" y="233"/><use href="#pu" x="495" y="233"/><use href="#pu" x="830.6" y="233"/><use href="#pu" x="898.8" y="233"/><use href="#pu" x="1096.5" y="233"/><use href="#pu" x="1145" y="233"/><use href="#pu" x="1227.8" y="233"/><use href="#pu" x="1365" y="233"/>
<use href="#pu" x="34.6" y="334"/><use href="#pu" x="215.7" y="334"/><use href="#pu" x="467.7" y="334"/><use href="#pu" x="575" y="334"/><use href="#pu" x="625.3" y="334"/><use href="#pu" x="668" y="334"/><use href="#pu" x="721" y="334"/><use href="#pu" x="751" y="334"/><use href="#pu" x="828" y="334"/><use href="#pu" x="922" y="334"/><use href="#pu" x="926" y="334"/><use href="#pu" x="1061" y="334"/><use href="#pu" x="1169" y="334"/><use href="#pu" x="1277.6" y="334"/>
<use href="#pu" x="71.4" y="422"/><use href="#pu" x="126.7" y="422"/><use href="#pu" x="242" y="422"/><use href="#pu" x="341" y="422"/><use href="#pu" x="610.6" y="422"/><use href="#pu" x="615" y="422"/><use href="#pu" x="645" y="422"/><use href="#pu" x="702.8" y="422"/><use href="#pu" x="712" y="422"/><use href="#pu" x="729" y="422"/><use href="#pu" x="738.4" y="422"/><use href="#pu" x="742" y="422"/><use href="#pu" x="768.4" y="422"/><use href="#pu" x="815.4" y="422"/><use href="#pu" x="819" y="422"/><use href="#pu" x="840.7" y="422"/><use href="#pu" x="859.6" y="422"/><use href="#pu" x="878" y="422"/><use href="#pu" x="892.8" y="422"/>
<use href="#pd" x="610.6" y="432"/><use href="#pd" x="1029.7" y="432"/><use href="#pd" x="1288" y="432"/><use href="#pd" x="1322" y="432"/><use href="#pd" x="1359.6" y="432"/>
<use href="#pd" x="41.5" y="532"/><use href="#pd" x="89" y="532"/><use href="#pd" x="106" y="532"/><use href="#pd" x="348.8" y="532"/><use href="#pd" x="438.7" y="532"/><use href="#pd" x="574.7" y="532"/><use href="#pd" x="692.6" y="532"/><use href="#pd" x="891.4" y="532"/><use href="#pd" x="941" y="532"/><use href="#pd" x="1016.3" y="532"/><use href="#pd" x="1209.9" y="532"/><use href="#pd" x="1237.5" y="532"/><use href="#pd" x="1242" y="532"/><use href="#pd" x="1266" y="532"/>
<use href="#tu" x="282" y="58"/><use href="#tu" x="432" y="58"/><use href="#tu" x="639" y="58"/><use href="#tu" x="1025.5" y="58"/><use href="#tu" x="1091" y="58"/><use href="#tu" x="1251" y="58"/>
<use href="#tu" x="230.4" y="146"/><use href="#tu" x="434" y="146"/><use href="#tu" x="1084" y="146"/><use href="#tu" x="1319" y="146"/>
<use href="#tu" x="897.4" y="233"/><use href="#tu" x="1225.5" y="233"/>
<use href="#tu" x="30.9" y="334"/><use href="#tu" x="213.4" y="334"/><use href="#tu" x="572.4" y="334"/><use href="#tu" x="1273" y="334"/>
<use href="#tu" x="69" y="422"/><use href="#tu" x="338.7" y="422"/><use href="#tu" x="686.6" y="422"/><use href="#tu" x="795" y="422"/><use href="#tu" x="992" y="422"/>
<use href="#td" x="583" y="432"/><use href="#td" x="1009.4" y="432"/><use href="#td" x="1032" y="432"/>
<use href="#td" x="90.8" y="532"/><use href="#td" x="137.3" y="532"/><use href="#td" x="403.7" y="532"/><use href="#td" x="576" y="532"/><use href="#td" x="892.8" y="532"/><use href="#td" x="948" y="532"/><use href="#td" x="1019.5" y="532"/>
</g>

<g id="legend">
<g id="leg-packaging"><rect class="b pk" x="218" y="634" width="28" height="26"/><text class="lg" x="256" y="647">Packaging</text></g>
<g id="leg-lysis"><rect class="b ly" x="386" y="634" width="27" height="26"/><text class="lg" x="421" y="647">Lysis</text></g>
<g id="leg-additional"><rect class="b ad" x="552" y="634" width="28" height="26"/><text class="lg" x="589" y="647">Additional functions</text></g>
<g id="leg-terminal"><rect class="b tr" x="744" y="634" width="25" height="26"/><text class="lg" x="773" y="647">Terminal repeat-encoded protein</text></g>
<g id="leg-terminator"><line class="tm" x1="1021" y1="637" x2="1021" y2="661"/><circle class="tb" cx="1021" cy="637" r="4.5"/><text class="lg" x="1049" y="647">Transcriptional terminator</text></g>
<g id="leg-structural"><rect class="b st" x="218" y="672" width="28" height="26"/><text class="lg" x="256" y="686">Structural</text></g>
<g id="leg-dna"><rect class="b dn" x="386" y="672" width="27" height="26"/><text class="lg" x="421" y="686">DNA metabolism</text></g>
<g id="leg-rna"><rect class="b rn" x="552" y="672" width="28" height="26"/><text class="lg" x="589" y="686">RNA metabolism</text></g>
<g id="leg-hypothetical"><rect class="b" x="744" y="672" width="25" height="26"/><text class="lg" x="773" y="686">Hypothetical protein</text></g>
<g id="leg-promoter"><path class="pr" d="M1030 698V679h6" marker-end="url(#ah)"/><text class="lg" x="1049" y="686">Promoter</text></g>
</g>
</svg>
